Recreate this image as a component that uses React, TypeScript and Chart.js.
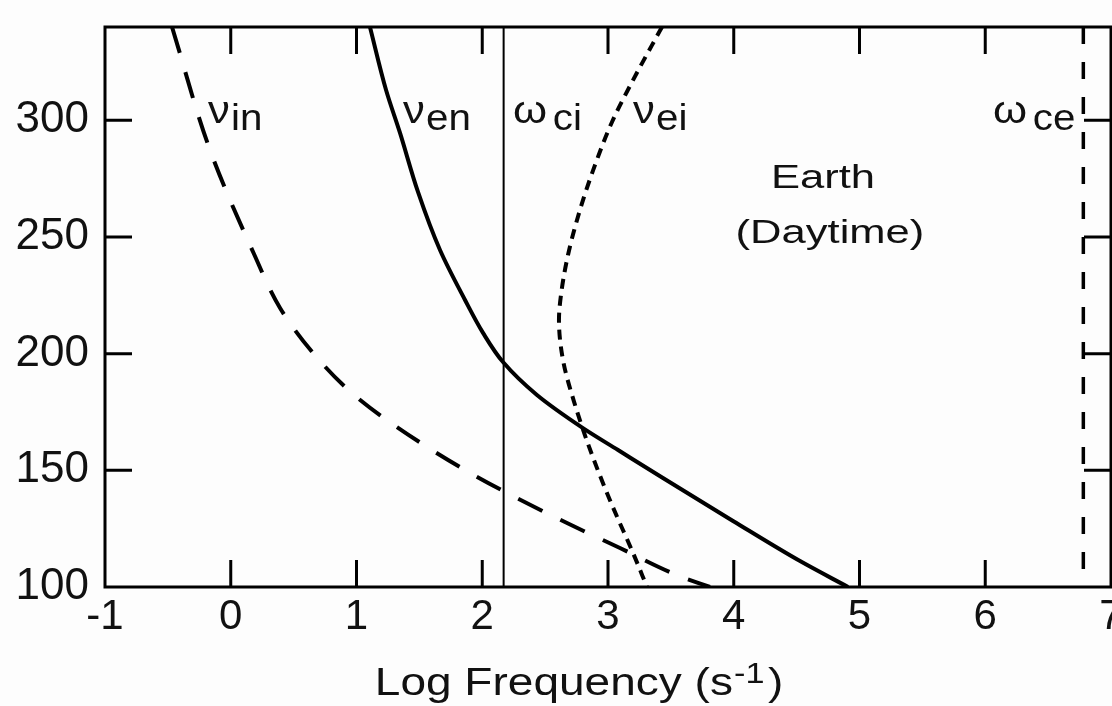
import React, { useEffect, useRef } from 'react';
import { Chart, registerables } from 'chart.js';

Chart.register(...registerables);

// ---- axis ranges & ticks ----
const X_MIN = -1;
const X_MAX = 7;
const Y_MIN = 100;
const Y_MAX = 340;
const xTicks = [-1, 0, 1, 2, 3, 4, 5, 6, 7];
const yTicks = [100, 150, 200, 250, 300];

// ---- series (x = log frequency, y = altitude) ----
const nuInX = [-0.467, -0.165, 0.185, 0.392, 0.654, 0.964, 1.298, 1.823, 2.197, 2.674, 3.095, 3.549, 3.811];
const nuInY = [340, 287.3, 242.7, 219.6, 200.3, 183.1, 169.4, 151.4, 140.3, 127.4, 116.7, 105.1, 100];

const nuEnX = [1.107, 1.235, 1.346, 1.489, 1.664, 1.863, 2.006, 2.165, 2.435, 2.801, 3.08, 3.437, 3.994, 4.527, 4.909];
const nuEnY = [340, 313, 294.6, 269.3, 244.4, 223, 208.9, 196.4, 182.3, 168.1, 158.7, 146.7, 128.3, 111.1, 100];

const nuEiX = [3.429, 3.191, 3.032, 2.897, 2.777, 2.682, 2.626, 2.61, 2.642, 2.738, 2.873, 3.032, 3.199, 3.31];
const nuEiY = [340, 316.4, 299.3, 280.9, 261.6, 242.3, 225.1, 214.4, 197.3, 178, 156.6, 135.1, 114.6, 100];

const omegaCiX = [2.17, 2.17];
const omegaCiY = [340, 100];
const omegaCeX = [6.78, 6.78];
const omegaCeY = [340, 100];

// ---- annotation texts ----
const labelMain = ['ν', 'ν', 'ω', 'ν', 'ω'];
const labelSub = ['in', 'en', 'ci', 'ei', 'ce'];
const labelX = [-0.181, 1.37, 2.245, 3.199, 6.062];
const labelY = [299, 299, 299, 299, 299];

const noteLines = ['Earth', '(Daytime)'];
const noteX = [4.71, 4.765];
const noteY = [271, 247.4];

const titleMain = 'Log Frequency (s';
const titleSup = '-1';
const titleEnd = ')';
const titleXPos = 2.77;

const FONT = '"Liberation Sans", Arial, Helvetica, sans-serif';

function pts(xs: number[], ys: number[]) {
  return xs.map((x, i) => ({ x, y: ys[i] }));
}

const decorPlugin = {
  id: 'decor',
  afterDatasetsDraw(chart: any) {
    const ctx: CanvasRenderingContext2D = chart.ctx;
    const xs = chart.scales.x;
    const ys = chart.scales.y;
    const a = chart.chartArea;
    ctx.save();
    ctx.strokeStyle = '#000';
    ctx.lineWidth = 3;
    ctx.setLineDash([]);
    ctx.strokeRect(a.left, a.top, a.right - a.left, a.bottom - a.top);
    const TL = 27;
    ctx.beginPath();
    xTicks.forEach((v) => {
      if (v === X_MIN || v === X_MAX) return;
      const p = xs.getPixelForValue(v);
      ctx.moveTo(p, a.bottom);
      ctx.lineTo(p, a.bottom - TL);
      ctx.moveTo(p, a.top);
      ctx.lineTo(p, a.top + TL);
    });
    yTicks.forEach((v) => {
      if (v === Y_MIN || v === Y_MAX) return;
      const p = ys.getPixelForValue(v);
      ctx.moveTo(a.left, p);
      ctx.lineTo(a.left + TL, p);
      ctx.moveTo(a.right, p);
      ctx.lineTo(a.right - TL, p);
    });
    ctx.stroke();

    ctx.fillStyle = '#111';
    ctx.textBaseline = 'alphabetic';
    ctx.textAlign = 'left';
    labelMain.forEach((m, i) => {
      const px = xs.getPixelForValue(labelX[i]);
      const py = ys.getPixelForValue(labelY[i]);
      ctx.save();
      ctx.translate(px, py);
      ctx.scale(1.12, 1);
      ctx.font = '39px ' + FONT;
      ctx.fillText(m, 0, 0);
      const w = ctx.measureText(m).width;
      ctx.font = '36px ' + FONT;
      ctx.fillText(labelSub[i], w + (m === 'ω' ? 5 : 1), 7);
      ctx.restore();
    });
    noteLines.forEach((t, i) => {
      const px = xs.getPixelForValue(noteX[i]);
      const py = ys.getPixelForValue(noteY[i]);
      ctx.save();
      ctx.translate(px, py);
      ctx.scale(1.32, 1);
      ctx.font = '33px ' + FONT;
      ctx.textAlign = 'center';
      ctx.fillText(t, 0, 0);
      ctx.restore();
    });
    {
      const cx = xs.getPixelForValue(titleXPos);
      const by = 695;
      const sx = 1.18;
      ctx.font = '39px ' + FONT;
      const w1 = ctx.measureText(titleMain).width;
      const w3 = ctx.measureText(titleEnd).width;
      ctx.font = '29px ' + FONT;
      const w2 = ctx.measureText(titleSup).width;
      const total = (w1 + w2 + w3 + 4) * sx;
      ctx.save();
      ctx.translate(cx - total / 2, by);
      ctx.scale(sx, 1);
      ctx.font = '39px ' + FONT;
      ctx.fillText(titleMain, 0, 0);
      ctx.font = '29px ' + FONT;
      ctx.fillText(titleSup, w1 + 1, -12);
      ctx.font = '39px ' + FONT;
      ctx.fillText(titleEnd, w1 + w2 + 4, 0);
      ctx.restore();
    }
    ctx.restore();
  },
};

const lineBase = {
  borderColor: '#000',
  pointRadius: 0,
  fill: false,
  cubicInterpolationMode: 'monotone',
  indexAxis: 'y',
};

export default function App() {
  const ref = useRef<HTMLCanvasElement | null>(null);
  useEffect(() => {
    if (!ref.current) return;
    const chart = new Chart(ref.current, {
      type: 'line',
      data: {
        datasets: [
          { ...lineBase, label: 'nu_in', data: pts(nuInX, nuInY), borderWidth: 4, borderDash: [27, 20] },
          { ...lineBase, label: 'nu_en', data: pts(nuEnX, nuEnY), borderWidth: 4 },
          { ...lineBase, label: 'nu_ei', data: pts(nuEiX, nuEiY), borderWidth: 4, borderDash: [10, 7] },
          { ...lineBase, label: 'omega_ci', data: pts(omegaCiX, omegaCiY), borderWidth: 2, cubicInterpolationMode: 'default', tension: 0 },
          { ...lineBase, label: 'omega_ce', data: pts(omegaCeX, omegaCeY), borderWidth: 3.5, borderDash: [17, 18], cubicInterpolationMode: 'default', tension: 0 },
        ],
      },
      options: {
        animation: false,
        responsive: false,
        maintainAspectRatio: false,
        parsing: false as any,
        indexAxis: 'y',
        layout: { padding: { top: 27, right: 1, left: 0, bottom: 0 }, autoPadding: false } as any,
        plugins: { legend: { display: false }, tooltip: { enabled: false }, title: { display: false } },
        scales: {
          x: {
            type: 'linear',
            position: 'bottom',
            min: X_MIN,
            max: X_MAX,
            grid: { display: false, drawTicks: false },
            border: { display: false },
            afterBuildTicks: (s: any) => {
              s.ticks = xTicks.map((v) => ({ value: v }));
            },
            afterFit: (s: any) => {
              s.height = 119;
              s.paddingLeft = 0;
              s.paddingRight = 0;
              s.paddingTop = 0;
              s.paddingBottom = 0;
            },
            ticks: {
              font: { family: FONT, size: 42 },
              color: '#111',
              padding: 5,
              maxRotation: 0,
              autoSkip: false,
              callback: (v: any) => String(v),
            },
          },
          y: {
            type: 'linear',
            position: 'left',
            min: Y_MIN,
            max: Y_MAX,
            grid: { display: false, drawTicks: false },
            border: { display: false },
            afterBuildTicks: (s: any) => {
              s.ticks = yTicks.map((v) => ({ value: v }));
            },
            afterFit: (s: any) => {
              s.width = 105;
              s.paddingLeft = 0;
              s.paddingRight = 0;
              s.paddingTop = 0;
              s.paddingBottom = 0;
            },
            ticks: {
              font: { family: FONT, size: 44 },
              color: '#111',
              padding: 16,
              autoSkip: false,
              callback: (v: any) => String(v),
            },
          },
        },
      },
      plugins: [decorPlugin],
    } as any);
    return () => chart.destroy();
  }, []);
  return (
    <div style={{ position: 'absolute', left: 0, top: 0, width: 1112, height: 706, background: '#fdfdfd' }}>
      <canvas ref={ref} width={1112} height={706} style={{ display: 'block' }} />
    </div>
  );
}
